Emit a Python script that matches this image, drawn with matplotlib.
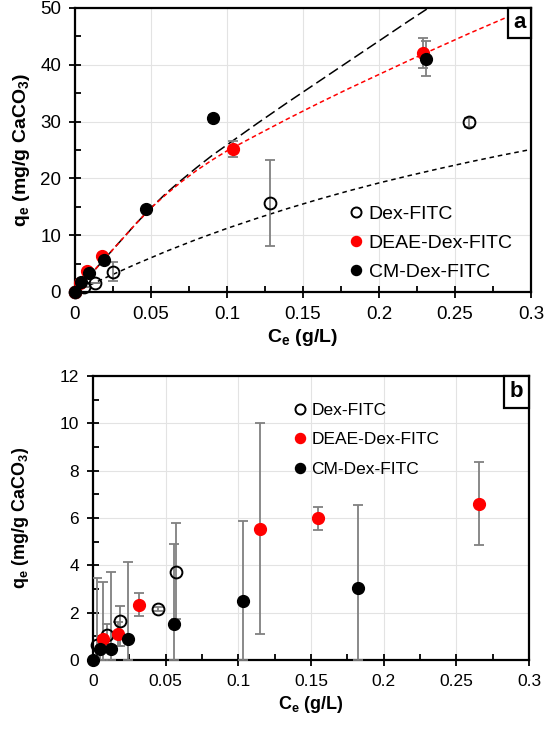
import matplotlib
matplotlib.use("Agg")
import matplotlib.pyplot as plt
from matplotlib.ticker import MultipleLocator
from matplotlib.patches import Rectangle

plt.rcParams['font.family'] = ['Liberation Sans', 'DejaVu Sans']
plt.rcParams['mathtext.fontset'] = 'custom'
plt.rcParams['mathtext.rm'] = 'Liberation Sans'
plt.rcParams['mathtext.bf'] = 'Liberation Sans:bold'

# ---------------- Panel a data ----------------
a_dex_x = [0.0, 0.006, 0.013, 0.0248, 0.128, 0.259]
a_dex_y = [0.0, 0.8, 1.5, 3.6, 15.7, 29.9]
a_dex_err = [0.0, 0.0, 0.0, 1.6, 7.6, 0.8]

a_deae_x = [0.0, 0.003, 0.0077, 0.0175, 0.1037, 0.2287]
a_deae_y = [0.0, 1.5, 3.7, 6.4, 25.1, 42.1]
a_deae_err = [0.0, 0.0, 0.0, 0.0, 1.4, 2.7]

a_cm_x = [0.0, 0.0037, 0.0094, 0.0193, 0.0467, 0.091, 0.2307]
a_cm_y = [0.0, 1.8, 3.3, 5.6, 14.7, 30.6, 41.1]
a_cm_err = [0.0, 0.0, 0.0, 0.0, 0.0, 0.6, 3.1]

# fitted curves, points
fit_cm_x = [0.0, 0.01, 0.02, 0.03, 0.04, 0.05, 0.06, 0.07, 0.08, 0.09, 0.10,
            0.12, 0.14, 0.16, 0.18, 0.20, 0.22, 0.2314]
fit_cm_y = [0.0, 3.0, 6.0, 9.0, 12.0, 14.8, 17.4, 19.7, 21.9, 24.0, 25.9,
            29.7, 33.4, 37.0, 40.6, 44.2, 47.8, 49.8]

fit_deae_x = [0.0, 0.01, 0.02, 0.03, 0.04, 0.05, 0.06, 0.07, 0.08, 0.09, 0.10,
              0.12, 0.14, 0.16, 0.18, 0.20, 0.22, 0.24, 0.26, 0.28, 0.30]
fit_deae_y = [0.0, 3.0, 6.0, 9.0, 12.0, 14.8, 17.2, 19.4, 21.4, 23.2, 24.85,
              27.7, 30.5, 33.2, 35.8, 38.3, 40.8, 43.2, 45.6, 47.9, 50.2]

fit_dex_x = [0.0, 0.02, 0.04, 0.06, 0.08, 0.10, 0.12, 0.14, 0.16, 0.18, 0.20,
             0.22, 0.24, 0.26, 0.28, 0.30]
fit_dex_y = [0.0, 2.5, 4.9, 7.16, 9.26, 11.2, 13.0, 14.7, 16.3, 17.8, 19.2,
             20.5, 21.74, 22.92, 24.04, 25.1]

# ---------------- Panel b data ----------------
b_dex_x = [0.0025, 0.0094, 0.0186, 0.0445, 0.0571]
b_dex_y = [0.63, 1.06, 1.65, 2.15, 3.73]
b_dex_lo = [0.63, 0.4, 1.04, 0.1, 2.01]
b_dex_hi = [2.83, 0.46, 0.65, 0.1, 2.05]

b_deae_x = [0.0067, 0.0174, 0.0317, 0.1149, 0.1546, 0.2659]
b_deae_y = [0.87, 1.10, 2.32, 5.52, 5.99, 6.59]
b_deae_lo = [0.87, 0.5, 0.46, 4.42, 0.5, 1.73]
b_deae_hi = [2.44, 0.5, 0.50, 4.48, 0.49, 1.76]

b_cm_x = [0.0, 0.0048, 0.0124, 0.0243, 0.0557, 0.103, 0.1826]
b_cm_y = [0.0, 0.45, 0.45, 0.87, 1.52, 2.48, 3.06]
b_cm_lo = [0.0, 0.45, 0.45, 0.87, 1.52, 2.48, 3.06]
b_cm_hi = [0.0, 0.0, 3.26, 3.29, 3.37, 3.41, 3.49]

series_labels = ['Dex-FITC', 'DEAE-Dex-FITC', 'CM-Dex-FITC']
xticks = [0, 0.05, 0.1, 0.15, 0.2, 0.25, 0.3]
xticklabels = ['0', '0.05', '0.1', '0.15', '0.2', '0.25', '0.3']

ERRC = '#808080'
RED = '#ff0000'
MS = 8.5

fig = plt.figure(figsize=(5.44, 7.30), dpi=100)
axa = fig.add_axes([75/544, 1-292/730, 456/544, 284/730])
axb = fig.add_axes([93/544, 1-660/730, 436/544, 284/730])


def style(ax, ymax, ymajor, yminor, fs):
    ax.set_xlim(0, 0.3)
    ax.set_ylim(0, ymax)
    ax.set_xticks(xticks)
    ax.set_xticklabels(xticklabels)
    ax.xaxis.set_minor_locator(MultipleLocator(0.025))
    ax.yaxis.set_major_locator(MultipleLocator(ymajor))
    ax.yaxis.set_minor_locator(MultipleLocator(yminor))
    ax.grid(True, which='major', color='#e3e3e3', lw=0.8)
    ax.set_axisbelow(True)
    ax.tick_params(which='major', direction='inout', length=8, width=1.3,
                   labelsize=fs, colors='black', pad=6)
    ax.tick_params(which='minor', direction='in', length=4, width=1.3)
    for s in ax.spines.values():
        s.set_linewidth(1.6)
        s.set_color('black')


def corner_label(ax, txt, wpx, hpx, fs):
    bb = ax.get_position()
    W = bb.width * 544
    H = bb.height * 730
    w = wpx / W
    h = hpx / H
    ax.add_patch(Rectangle((1 - w, 1 - h), w, h, transform=ax.transAxes,
                           fc='white', ec='black', lw=1.6, zorder=10, clip_on=False))
    ax.text(1 - w / 2, 1 - h / 2, txt, transform=ax.transAxes, ha='center',
            va='center', fontsize=fs, fontweight='bold', zorder=11)


def err(ax, x, y, yerr):
    ax.errorbar(x, y, yerr=yerr, fmt='none', ecolor=ERRC, elinewidth=1.3,
                capsize=3.5, capthick=1.3, zorder=3)


# ---------- panel a ----------
axa.plot(fit_cm_x, fit_cm_y, color='black', ls=(0, (7, 3)), lw=1.1, zorder=2)
axa.plot(fit_deae_x, fit_deae_y, color=RED, ls=(0, (3, 2)), lw=1.1, zorder=2)
axa.plot(fit_dex_x, fit_dex_y, color='black', ls=(0, (3, 2.5)), lw=1.1, zorder=2)

err(axa, a_dex_x, a_dex_y, a_dex_err)
err(axa, a_deae_x, a_deae_y, a_deae_err)
err(axa, a_cm_x, a_cm_y, a_cm_err)
axa.plot(a_dex_x, a_dex_y, 'o', mfc='none', mec='black', mew=1.4, ms=MS, zorder=4,
         label=series_labels[0], clip_on=False)
axa.plot(a_deae_x, a_deae_y, 'o', mfc=RED, mec=RED, ms=MS, zorder=5,
         label=series_labels[1], clip_on=False)
axa.plot(a_cm_x, a_cm_y, 'o', mfc='black', mec='black', ms=MS, zorder=6,
         label=series_labels[2], clip_on=False)
style(axa, 50, 10, 5, 13.5)
axa.set_xlabel(r'$\mathbf{C_e}$ (g/L)', fontsize=14, fontweight='bold', labelpad=3)
axa.set_ylabel(r'$\mathbf{q_e}$ (mg/g CaCO$_\mathbf{3}$)', fontsize=14,
               fontweight='bold', labelpad=6)
axa.legend(loc='upper left', bbox_to_anchor=(0.578, 0.332), frameon=False,
           fontsize=14, handletextpad=0.15, handlelength=1.0, labelspacing=0.58,
           markerscale=0.85, borderaxespad=0.0)
corner_label(axa, 'a', 23, 30, 16)

# ---------- panel b ----------
err(axb, b_dex_x, b_dex_y, [b_dex_lo, b_dex_hi])
err(axb, b_deae_x, b_deae_y, [b_deae_lo, b_deae_hi])
err(axb, b_cm_x, b_cm_y, [b_cm_lo, b_cm_hi])
axb.plot(b_dex_x, b_dex_y, 'o', mfc='none', mec='black', mew=1.4, ms=MS, zorder=4,
         label=series_labels[0], clip_on=False)
axb.plot(b_deae_x, b_deae_y, 'o', mfc=RED, mec=RED, ms=MS, zorder=5,
         label=series_labels[1], clip_on=False)
axb.plot(b_cm_x, b_cm_y, 'o', mfc='black', mec='black', ms=MS, zorder=6,
         label=series_labels[2], clip_on=False)
style(axb, 12, 2, 1, 12.5)
axb.set_xlabel(r'$\mathbf{C_e}$ (g/L)', fontsize=13, fontweight='bold', labelpad=4)
axb.set_ylabel(r'$\mathbf{q_e}$ (mg/g CaCO$_\mathbf{3}$)', fontsize=13,
               fontweight='bold', labelpad=21)
axb.legend(loc='upper left', bbox_to_anchor=(0.439, 0.931), frameon=False,
           fontsize=12.5, handletextpad=0.15, handlelength=1.0, labelspacing=0.84,
           markerscale=0.85, borderaxespad=0.0)
corner_label(axb, 'b', 25, 32, 16)

fig.savefig('out.png', dpi=100)
